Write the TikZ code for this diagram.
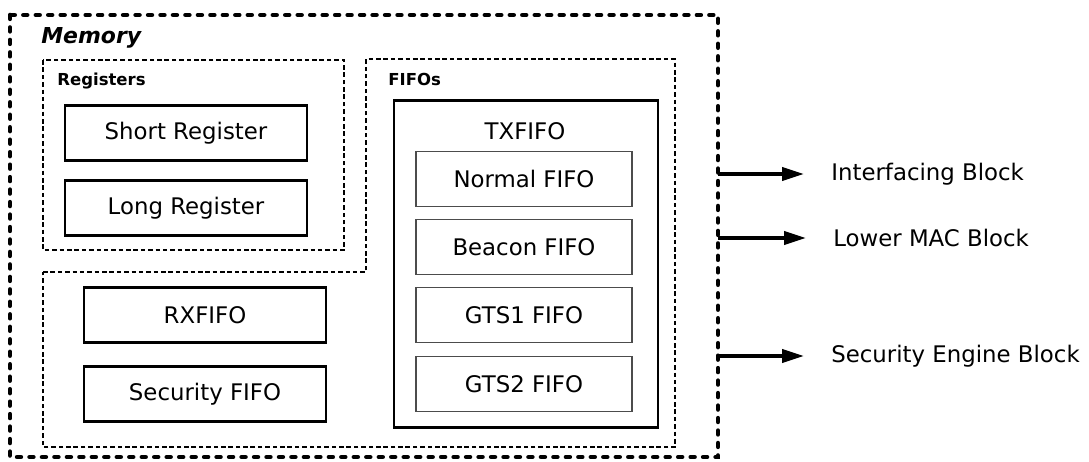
\documentclass[tikz,border=0pt]{standalone}
\usepackage{fontspec}
\setmainfont{DejaVu Sans}
\usetikzlibrary{arrows.meta}
\usetikzlibrary{positioning}
\tikzset{memframe/.style = {line width=2.6pt, line cap=round, dash pattern=on 2.2pt off 4.9pt}}
\tikzset{grpframe/.style = {line width=1.6pt, dash pattern=on 2.6pt off 1.6pt}}
\tikzset{regbox/.style = {draw, line width=1.6pt, minimum width=4.84cm, minimum height=1.1cm, font=\fontsize{13}{15}\selectfont}}
\tikzset{fifobox/.style = {draw=black!70, line width=0.6pt, minimum width=4.32cm, minimum height=1.1cm, font=\fontsize{13}{15}\selectfont}}
\tikzset{grplabel/.style = {anchor=west, inner sep=0, font=\bfseries\fontsize{9.4}{11}\selectfont}}
\tikzset{blocklabel/.style = {anchor=west, inner sep=0, font=\fontsize{13}{15}\selectfont}}
\tikzset{outlink/.style = {line width=2pt, -{Triangle[length=12.5pt, width=7.5pt]}, shorten >=0.54cm}}

\begin{document}
\begin{tikzpicture}[x=0.02cm, y=-0.02cm]
    \useasboundingbox (0, 0) rectangle (1089, 461);

    \draw [memframe] (10, 15) rectangle (718, 457);
    \node [anchor=west, inner sep=0, font=\bfseries\itshape\fontsize{12.5}{14}\selectfont] (memlabel) at (41, 38) {Memory};

    \draw [grpframe] (43, 60) rectangle (344, 250);
    \node [grplabel] (reglabel) at (57, 81) {Registers};
    \draw [grpframe] (43, 272) -- (366, 272) -- (366, 59) -- (675, 59) -- (675, 447) -- (43, 447) -- cycle;
    \node [grplabel] (fifolabel) at (388, 79) {FIFOs};

    \node [regbox] (shortreg) at (186, 133) {Short Register};
    \node [regbox] (longreg) at (186, 208) {Long Register};
    \node [regbox] (rxfifo) at (205, 315) {RXFIFO};
    \node [regbox] (secfifo) at (205, 394) {Security FIFO};

    \node [draw, line width=1.6pt, minimum width=5.28cm, minimum height=6.54cm] (txfifo) at (526, 264) {};
    \node [font=\fontsize{13}{15}\selectfont] (txlabel) at (525, 131) {TXFIFO};
    \node [fifobox] (normfifo) at (524, 179) {Normal FIFO};
    \node [fifobox] (beacfifo) at (524, 247) {Beacon FIFO};
    \node [fifobox] (gtsafifo) at (524, 315) {GTS1 FIFO};
    \node [fifobox] (gtsbfifo) at (524, 384) {GTS2 FIFO};

    \node [blocklabel] (ifblock) at (831, 174) {Interfacing Block};
    \node [blocklabel] (macblock) at (833, 238) {Lower MAC Block};
    \node [blocklabel] (secblock) at (831, 356) {Security Engine Block};
    \coordinate (ifport) at (718, 174);
    \coordinate (macport) at (718, 238);
    \coordinate (secport) at (718, 356);
    \draw [outlink] (ifport) -- (ifblock.west);
    \draw [outlink] (macport) -- (macblock.west);
    \draw [outlink] (secport) -- (secblock.west);
  \end{tikzpicture}
\end{document}
